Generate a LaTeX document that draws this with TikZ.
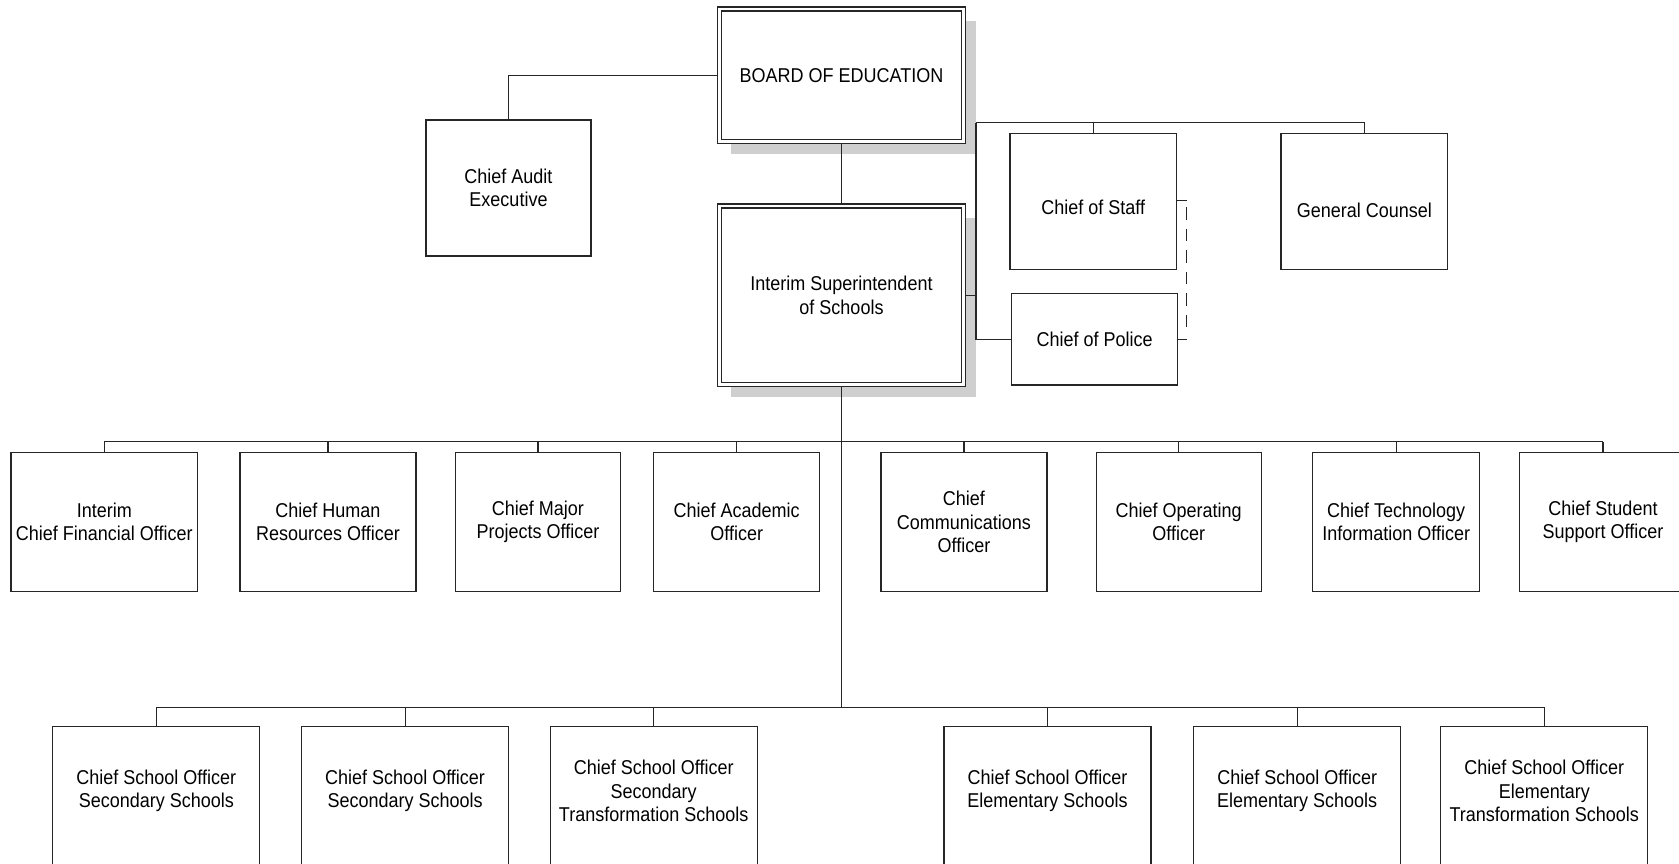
\documentclass[tikz,border=0pt]{standalone}
\usepackage{fontspec}
\setmainfont[FakeStretch=0.9]{Liberation Sans}
\usetikzlibrary{shadows}
\definecolor{linec}{HTML}{262626}
\definecolor{shadowc}{HTML}{CFCFCF}
\begin{document}
\begin{tikzpicture}[x=1pt,y=-1pt,
  box/.style={draw=linec, line width=1.2pt, inner sep=0pt, align=center,
    font=\fontsize{20}{23.5}\selectfont, text=black},
  dbox/.style={box, fill=white, double=white, double distance=2.8pt, outer sep=2pt,
    drop shadow={shadow xshift=12pt, shadow yshift=-12pt, opacity=1, fill=shadowc}},
  bot/.style={inner sep=0pt, outer sep=0pt, align=center, minimum width=207pt, minimum height=128.6pt,
    font=\fontsize{20}{23.5}\selectfont, text=black},
  conn/.style={draw=linec, line width=1.2pt},
  dconn/.style={draw=linec, line width=1.2pt, dash pattern=on 12.5pt off 9pt}]
\useasboundingbox (0,0) rectangle (1679,863);
\fill[white] (0,0) rectangle (1679,863);
\clip (0,0) rectangle (1679,863);

% top level
\node[dbox, minimum width=244.4pt, minimum height=132.7pt] (board) at (841.5,75.3) {BOARD OF EDUCATION};
\node[dbox, minimum width=244.4pt, minimum height=178.7pt] (super) at (841.5,295.3) {Interim Superintendent\\of Schools};
\node[box, minimum width=165pt, minimum height=136pt] (audit) at (508.5,188) {Chief Audit\\Executive};
\node[box, minimum width=166.7pt, minimum height=136pt] (staff) at (1093.3,201.3) {\raisebox{-13.5pt}[0pt][0pt]{Chief of Staff}};
\node[box, minimum width=166.6pt, minimum height=136pt] (counsel) at (1364.3,201.3) {\raisebox{-16pt}[0pt][0pt]{General Counsel}};
\node[box, minimum width=166pt, minimum height=91.7pt] (police) at (1094.7,339.2) {Chief of Police};

% middle row
\node[box, minimum width=186.7pt, minimum height=139.4pt] (cfo) at (104.3,522) {Interim\\Chief Financial Officer};
\node[box, minimum width=176pt, minimum height=139.4pt] (hr) at (328,522) {Chief Human\\Resources Officer};
\node[box, minimum width=165pt, minimum height=139.4pt] (major) at (537.9,522) {Chief Major\\Projects Officer};
\node[box, minimum width=166.2pt, minimum height=139.4pt] (acad) at (736.7,522) {Chief Academic\\Officer};
\node[box, minimum width=166pt, minimum height=139.4pt] (comm) at (963.9,522) {Chief\\Communications\\Officer};
\node[box, minimum width=165pt, minimum height=139.4pt] (oper) at (1178.7,522) {Chief Operating\\Officer};
\node[box, minimum width=167.2pt, minimum height=139.4pt] (tech) at (1396.2,522) {Chief Technology\\Information Officer};
\node[box, minimum width=167.4pt, minimum height=139.4pt] (student) at (1603,522) {Chief Student\\Support Officer};

% bottom row
\node[bot] (b1) at (156.3,791) {Chief School Officer\\Secondary Schools};
\node[bot] (b2) at (405.1,791) {Chief School Officer\\Secondary Schools};
\node[bot] (b3) at (653.7,791) {Chief School Officer\\Secondary\\Transformation Schools};
\node[bot] (b4) at (1047.5,791) {Chief School Officer\\Elementary Schools};
\node[bot] (b5) at (1297.2,791) {Chief School Officer\\Elementary Schools};
\node[bot] (b6) at (1544.3,791) {Chief School Officer\\Elementary\\Transformation Schools};
\foreach \b in {b1,b2,b3,b4,b5,b6}{
  \draw[conn] ([yshift=-40pt]\b.south west) -- (\b.north west) -- (\b.north east) -- ([yshift=-40pt]\b.south east);
}

% connectors: top
\draw[conn] (board.west) -| (audit.north);
\draw[conn] (board.south) -- (super.north);
\coordinate (tr) at (976,122.7);
\draw[conn] (super.east) -- (super.east -| tr);
\draw[conn] (tr) |- (police.west);
\draw[conn] (tr) -| (counsel.north);
\draw[conn] (staff.north) -- (staff.north |- tr);

% dashed staff - police
\coordinate (dx) at (1186.7,0);
\coordinate (ds1) at (1186.7,207);
\coordinate (ds2) at (1186.7,328);
\draw[conn] ([yshift=1pt]staff.east) -- ([yshift=1pt]staff.east -| dx);
\draw[conn] (police.east) -- (police.east -| dx);
\draw[dconn] (ds1) -- (ds2);

% middle row connectors
\coordinate (hm) at (841.5,441.7);
\coordinate (hb) at (841.5,707.3);
\draw[conn] (super.south) -- (hb);
\draw[conn] (cfo.north |- hm) -- (student.north |- hm);
\foreach \n in {cfo,hr,major,acad,comm,oper,tech,student}{
  \draw[conn] (\n.north) -- (\n.north |- hm);
}
% bottom row connectors
\draw[conn] (b1.north |- hb) -- (b6.north |- hb);
\foreach \n in {b1,b2,b3,b4,b5,b6}{
  \draw[conn] (\n.north) -- (\n.north |- hb);
}
\end{tikzpicture}
\end{document}
